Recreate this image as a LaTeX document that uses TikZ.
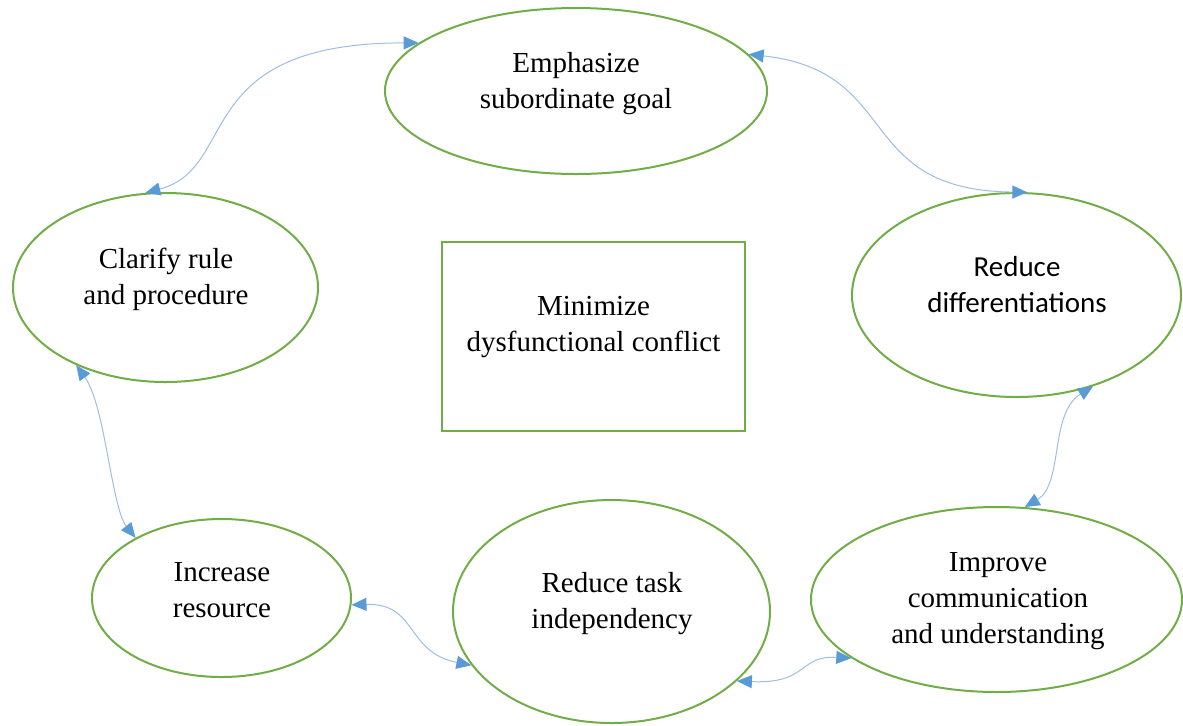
\documentclass[tikz,border=0pt]{standalone}
\usepackage{fontspec}
\setmainfont{Liberation Serif}
\newfontfamily\calibri{Carlito}
\usetikzlibrary{shapes.geometric,arrows.meta}
\definecolor{ringgreen}{HTML}{70AD47}
\definecolor{linkblue}{HTML}{9DBDE3}
\definecolor{tipblue}{HTML}{5B9BD5}
\tikzset{
    goal/.style={ellipse, draw=ringgreen, line width=1pt, inner sep=0pt},
    target/.style={rectangle, draw=ringgreen, line width=1.2pt, inner sep=0pt},
    lbl/.style={align=center, inner sep=0pt, font=\fontsize{14.5}{18}\selectfont},
    link/.style={draw=linkblue, line width=0.5pt,
        {Triangle[length=7.5pt,width=6.5pt,color=tipblue]}-{Triangle[length=7.5pt,width=6.5pt,color=tipblue]}}
}
\begin{document}
\begin{tikzpicture}[x=0.5pt, y=-0.5pt]
    \useasboundingbox (0,0) rectangle (1183,725);

    \node[goal, minimum width=191pt, minimum height=83pt] (emph) at (576,91) {};
    \node[goal, minimum width=152.5pt, minimum height=94.5pt] (clar) at (165.5,287.5) {};
    \node[goal, minimum width=164.5pt, minimum height=102pt] (diff) at (1016.5,295) {};
    \node[goal, minimum width=129.5pt, minimum height=79pt] (incr) at (221.5,598) {};
    \node[goal, minimum width=158.5pt, minimum height=111.5pt] (task) at (611.5,611.5) {};
    \node[goal, minimum width=185.5pt, minimum height=92.5pt] (impr) at (996.5,599.5) {};
    \node[target, minimum width=151.5pt, minimum height=94.5pt] (mini) at (593.5,336.5) {};

    \node[lbl] (emphText) at (576,84) {Emphasize\\subordinate goal};
    \node[lbl] (clarText) at (166,279) {Clarify rule\\and procedure};
    \node[lbl, font=\calibri\fontsize{14.5}{18}\selectfont] (diffText) at (1017,285) {Reduce\\differentiations};
    \node[lbl] (incrText) at (222,590) {Increase\\resource};
    \node[lbl] (taskText) at (612,604) {Reduce task\\independency};
    \node[lbl] (imprText) at (998,601) {Improve\\communication\\and understanding};
    \node[lbl] (miniText) at (593.5,327.5) {Minimize\\dysfunctional conflict};

    \draw[link] (clar.102) .. controls +(95,-25) and +(-230,0) .. (emph.163.5);
    \draw[link] (emph.12.2) .. controls +(155,17) and +(-175,-2) .. (diff.84);
    \draw[link] (diff.-50.2) .. controls +(-44,27) and +(39,-23) .. (impr.73);
    \draw[link] (impr.202.2) .. controls +(-53,-3) and +(72,3) .. (task.-29.9);
    \draw[link] (task.201.9) .. controls +(-66,-13) and +(66,-2) .. (incr.-3.9);
    \draw[link] (incr.145.1) .. controls +(-24,-30) and +(29,40) .. (clar.221.1);
\end{tikzpicture}
\end{document}
